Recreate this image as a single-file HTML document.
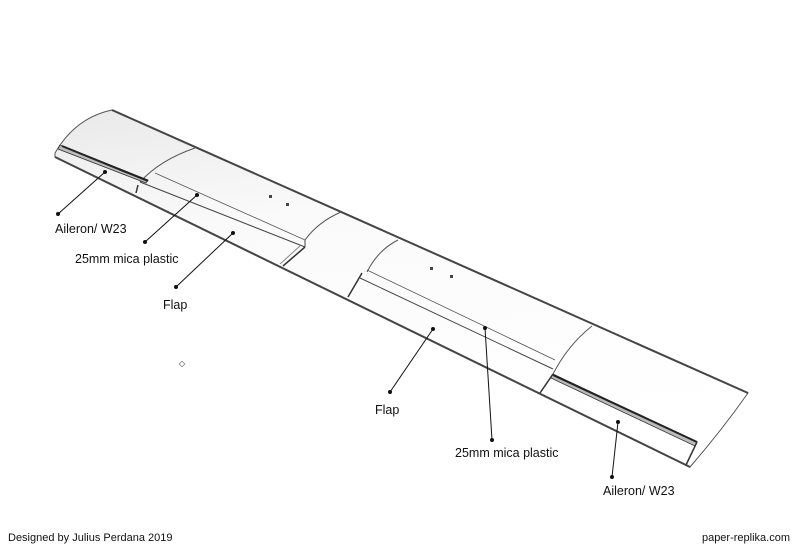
<!DOCTYPE html>
<html><head><meta charset="utf-8"><style>
html,body{margin:0;padding:0;background:#fff;}
svg{display:block;font-family:"Liberation Sans",Arial,sans-serif;}
</style></head><body>
<svg width="800" height="549" viewBox="0 0 800 549" xmlns="http://www.w3.org/2000/svg">
<defs>
<linearGradient id="g" x1="0" y1="0" x2="0.25" y2="1">
<stop offset="0" stop-color="#e9e9e9"/><stop offset="0.35" stop-color="#fafafa"/><stop offset="1" stop-color="#ffffff"/>
</linearGradient>
</defs>
<path d="M55,153 Q75,118 112,110 L748,393 Q722,430 690,467 L55,157 Z" fill="url(#g)" stroke="#555" stroke-width="1"/>
<line x1="112" y1="110" x2="748" y2="393" stroke="#444" stroke-width="2"/>
<line x1="55" y1="157" x2="690" y2="467" stroke="#444" stroke-width="2"/>
<path d="M195,148 Q160,160 140,182" fill="none" stroke="#555" stroke-width="1"/>
<path d="M341,212 Q318,222 305,240" fill="none" stroke="#555" stroke-width="1"/>
<path d="M398,240 Q378,250 367,272" fill="none" stroke="#555" stroke-width="1"/>
<path d="M592,326 Q568,345 553,374" fill="none" stroke="#555" stroke-width="1"/>
<path d="M60,145 L148,180 L146,183 L58,149 Z" fill="#bbb" stroke="#333" stroke-width="0.8"/>
<line x1="62" y1="146" x2="148" y2="181" stroke="#222" stroke-width="2"/>
<line x1="138" y1="185" x2="136" y2="193" stroke="#333" stroke-width="1.5"/>
<line x1="155" y1="173" x2="305" y2="240" stroke="#555" stroke-width="0.8"/>
<line x1="140" y1="182" x2="305" y2="247" stroke="#444" stroke-width="1"/>
<line x1="305" y1="240" x2="305" y2="247" stroke="#444" stroke-width="1"/>
<line x1="305" y1="247" x2="283" y2="266" stroke="#333" stroke-width="1.5"/>
<line x1="300" y1="246" x2="280" y2="264" stroke="#888" stroke-width="1"/>
<line x1="367" y1="270" x2="555" y2="360" stroke="#555" stroke-width="0.8"/>
<line x1="360" y1="278" x2="553" y2="369" stroke="#444" stroke-width="1"/>
<line x1="362" y1="273" x2="348" y2="297" stroke="#333" stroke-width="1.5"/>
<line x1="553" y1="374" x2="540" y2="393" stroke="#333" stroke-width="1.5"/>
<path d="M553,374 L697,442 L695,446 L551,378 Z" fill="#bbb" stroke="#333" stroke-width="0.8"/>
<line x1="553" y1="375" x2="697" y2="442" stroke="#222" stroke-width="2"/>
<line x1="697" y1="442" x2="686" y2="465" stroke="#333" stroke-width="1.5"/>
<g fill="#444"><rect x="269" y="195" width="3" height="3"/><rect x="286" y="203" width="3" height="3"/><rect x="430" y="267" width="3" height="3"/><rect x="450" y="275" width="3" height="3"/></g>
<rect x="180" y="362" width="4" height="4" fill="none" stroke="#888" stroke-width="0.8" transform="rotate(45 182 364)"/>
<g stroke="#111" stroke-width="1" fill="#111">
<line x1="58" y1="214" x2="105" y2="172"/><circle cx="58" cy="214" r="1.5"/><circle cx="105" cy="172" r="1.5"/>
<line x1="145" y1="242" x2="197" y2="195"/><circle cx="145" cy="242" r="1.5"/><circle cx="197" cy="195" r="1.5"/>
<line x1="176" y1="287" x2="233" y2="233"/><circle cx="176" cy="287" r="1.5"/><circle cx="233" cy="233" r="1.5"/>
<line x1="390" y1="392" x2="433" y2="329"/><circle cx="390" cy="392" r="1.5"/><circle cx="433" cy="329" r="1.5"/>
<line x1="492" y1="440" x2="485" y2="328"/><circle cx="492" cy="440" r="1.5"/><circle cx="485" cy="328" r="1.5"/>
<line x1="612" y1="477" x2="618" y2="422"/><circle cx="612" cy="477" r="1.5"/><circle cx="618" cy="422" r="1.5"/>
</g>
<g font-size="12.5" fill="#111">
<text x="55" y="233">Aileron/ W23</text>
<text x="75" y="263">25mm mica plastic</text>
<text x="163" y="309">Flap</text>
<text x="375" y="414">Flap</text>
<text x="455" y="457">25mm mica plastic</text>
<text x="603" y="495">Aileron/ W23</text>
</g>
<g font-size="11" fill="#111">
<text x="8" y="541">Designed by Julius Perdana 2019</text>
<text x="790" y="541" text-anchor="end">paper-replika.com</text>
</g>
</svg>
</body></html>
